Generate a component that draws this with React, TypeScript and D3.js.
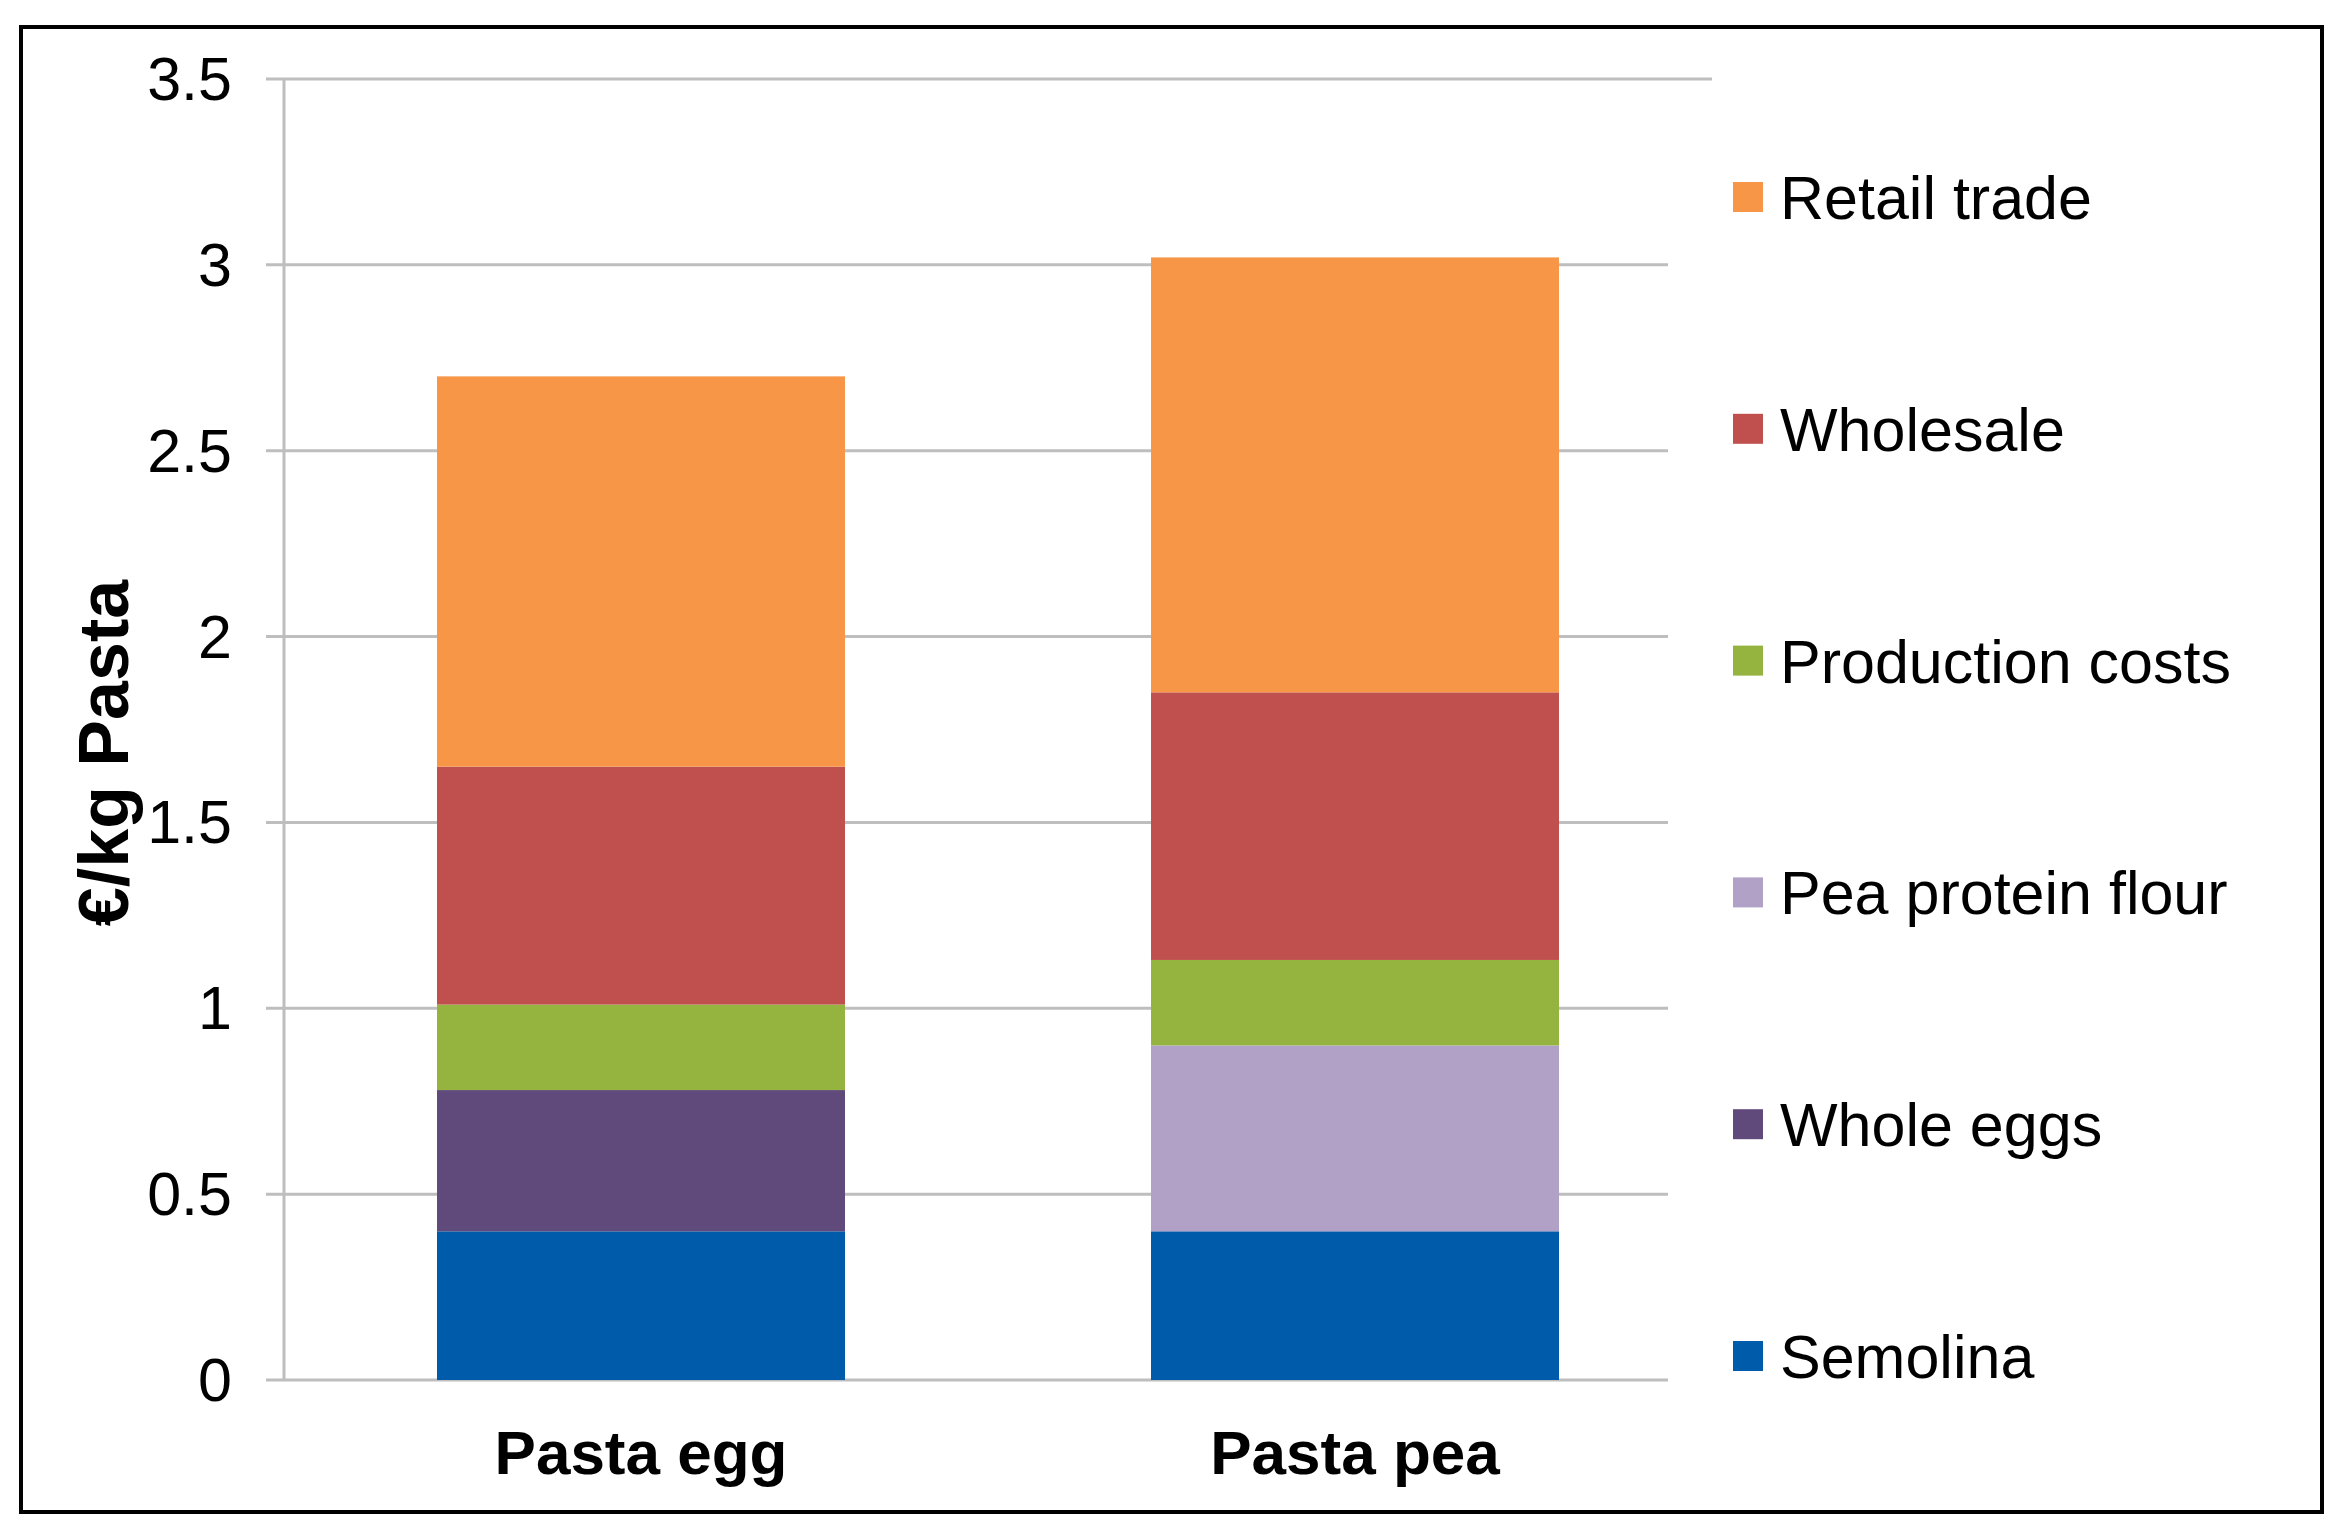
import React from "react";
import * as d3 from "d3";

const categories = ["Pasta egg", "Pasta pea"];
const seriesNames = ["Semolina", "Whole eggs", "Pea protein flour", "Production costs", "Wholesale", "Retail trade"];
const semolina = [0.40, 0.40];
const wholeEggs = [0.38, 0];
const peaProteinFlour = [0, 0.50];
const productionCosts = [0.23, 0.23];
const wholesale = [0.64, 0.72];
const retailTrade = [1.05, 1.17];
const seriesColors = ["#005BAA", "#604A7B", "#B2A1C7", "#94B33F", "#C0504D", "#F79646"];
const yTicks = [0, 0.5, 1, 1.5, 2, 2.5, 3, 3.5];
const yTitle = "€/kg Pasta";

const W = 2341;
const H = 1528;
const FONT = "'Liberation Sans', Arial, Helvetica, sans-serif";

export default function App() {
  const seriesValues = [semolina, wholeEggs, peaProteinFlour, productionCosts, wholesale, retailTrade];
  const rows = categories.map((c, i) => {
    const r: any = { category: c };
    seriesNames.forEach((s, j) => (r[s] = seriesValues[j][i]));
    return r;
  });
  const stacked = d3.stack<any>().keys(seriesNames)(rows);

  const plotLeft = 284;
  const plotRight = 1712;
  const x = d3
    .scaleBand<string>()
    .domain(categories)
    .range([plotLeft, plotRight])
    .paddingInner(1 - 1 / 1.75)
    .paddingOuter((1 - 1 / 1.75) / 2);
  const y = d3.scaleLinear().domain([0, 3.5]).range([1380, 79]);

  const legendItems = seriesNames.map((s, i) => ({ name: s, color: seriesColors[i] })).reverse();
  const legendY0 = 197;
  const legendStep = 231.8;

  return (
    <svg
      width={W}
      height={H}
      viewBox={`0 0 ${W} ${H}`}
      style={{ position: "absolute", left: 0, top: 0, background: "#fff" }}
      fontFamily={FONT}
    >
      <rect x={0} y={0} width={W} height={H} fill="#fff" />
      {/* gridlines */}
      {yTicks.map((t) => (
        <line
          key={"g" + t}
          x1={266}
          x2={t === 3.5 ? plotRight : 1668}
          y1={y(t)}
          y2={y(t)}
          stroke="#BEBEBE"
          strokeWidth={3}
        />
      ))}
      {/* y axis */}
      <line x1={plotLeft} x2={plotLeft} y1={y(3.5)} y2={y(0)} stroke="#BEBEBE" strokeWidth={3} />
      {/* bars */}
      {stacked.map((layer, li) => (
        <g key={layer.key} fill={seriesColors[li]}>
          {layer.map((d, i) =>
            d[1] - d[0] > 0 ? (
              <rect
                key={i}
                x={x(categories[i])!}
                width={x.bandwidth()}
                y={y(d[1])}
                height={y(d[0]) - y(d[1])}
              />
            ) : null
          )}
        </g>
      ))}
      {/* y tick labels */}
      {yTicks.map((t) => (
        <text key={"t" + t} x={232} y={y(t) + 21} textAnchor="end" fontSize={61} fill="#000">
          {String(t)}
        </text>
      ))}
      {/* category labels */}
      {categories.map((c) => (
        <text
          key={c}
          x={x(c)! + x.bandwidth() / 2}
          y={1474}
          textAnchor="middle"
          fontSize={62}
          fontWeight="bold"
          fill="#000"
        >
          {c}
        </text>
      ))}
      {/* y title */}
      <text
        transform={`translate(${128},${753}) rotate(-90)`}
        textAnchor="middle"
        fontSize={70}
        fontWeight="bold"
        fill="#000"
      >
        {yTitle}
      </text>
      {/* legend */}
      {legendItems.map((it, i) => {
        const cy = legendY0 + i * legendStep;
        return (
          <g key={it.name}>
            <rect x={1733} y={cy - 15} width={30} height={30} fill={it.color} />
            <text x={1780} y={cy + 22} fontSize={61} fill="#000">
              {it.name}
            </text>
          </g>
        );
      })}
      {/* outer border */}
      <rect x={21} y={27} width={2301} height={1485} fill="none" stroke="#000" strokeWidth={4} />
    </svg>
  );
}
